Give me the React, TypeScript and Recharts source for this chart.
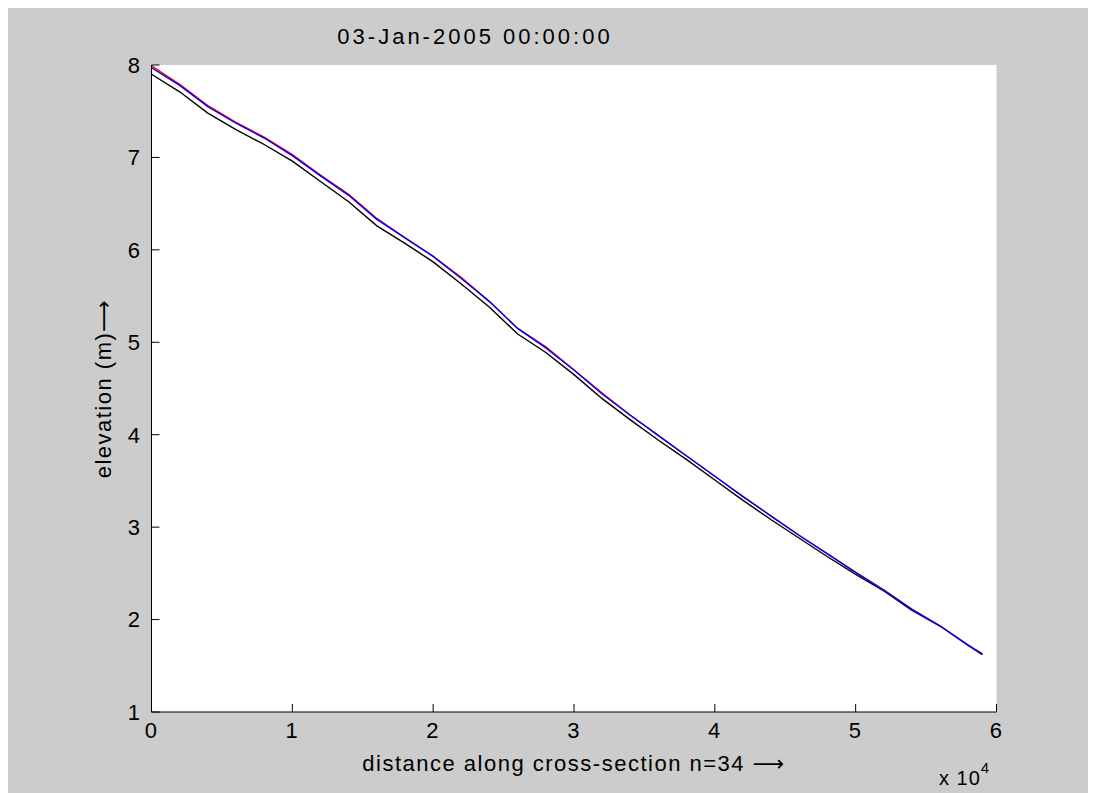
import React from 'react';
import { LineChart, Line, XAxis, YAxis, CartesianGrid } from 'recharts';

// distance along the cross-section (m) and the three elevation profiles (m)
const distance = [
  0, 2000, 4000, 6000, 8000, 10000, 12000, 14000, 16000, 18000, 20000, 22000, 24000, 26000, 28000,
  30000, 32000, 34000, 36000, 38000, 40000, 42000, 44000, 46000, 48000, 50000, 52000, 54000, 56000,
  58000, 59000,
];
const elevationBlack = [
  7.9, 7.71, 7.48, 7.3, 7.14, 6.96, 6.74, 6.52, 6.26, 6.07, 5.87, 5.63, 5.38, 5.09, 4.89, 4.65,
  4.39, 4.16, 3.94, 3.73, 3.51, 3.29, 3.08, 2.88, 2.68, 2.49, 2.31, 2.1, 1.93, 1.72, 1.63,
];
const elevationRed = [
  7.99, 7.79, 7.56, 7.38, 7.22, 7.03, 6.81, 6.6, 6.34, 6.13, 5.93, 5.7, 5.44, 5.15, 4.95, 4.7,
  4.45, 4.21, 3.99, 3.77, 3.55, 3.33, 3.12, 2.91, 2.71, 2.51, 2.32, 2.11, 1.93, 1.72, 1.62,
];
const elevationBlue = [
  7.97, 7.78, 7.55, 7.37, 7.21, 7.02, 6.8, 6.59, 6.33, 6.13, 5.93, 5.69, 5.44, 5.15, 4.94, 4.7,
  4.44, 4.21, 3.99, 3.77, 3.55, 3.33, 3.12, 2.91, 2.71, 2.51, 2.32, 2.11, 1.93, 1.72, 1.62,
];
const xTicks = [0, 10000, 20000, 30000, 40000, 50000, 60000];
const yTicks = [1, 2, 3, 4, 5, 6, 7, 8];

const rows = distance.map((d, i) => ({
  d,
  black: elevationBlack[i],
  red: elevationRed[i],
  blue: elevationBlue[i],
}));

const font = '"Liberation Sans", Arial, "DejaVu Sans", sans-serif';
const tickStyle = { fill: '#000', fontSize: 22, fontFamily: font, letterSpacing: 1.5 };

export default function App() {
  return (
    <div style={{ position: 'relative', marginTop: -3, width: 1088, height: 788, background: '#cccccc', fontFamily: font }}>
      <div
        style={{
          position: 'absolute',
          left: 467 - 200,
          width: 400,
          top: 19,
          textAlign: 'center',
          fontSize: 22,
          letterSpacing: 3,
          color: '#000',
        }}
      >
        03-Jan-2005 00:00:00
      </div>

      <LineChart width={1088} height={788} data={rows} margin={{ top: 60, right: 99.5, bottom: 51, left: 83.5 }}>
        <CartesianGrid horizontal={false} vertical={false} fill="#ffffff" fillOpacity={1} />
        <XAxis
          dataKey="d"
          type="number"
          domain={[0, 60000]}
          ticks={xTicks}
          tickFormatter={(v: number) => String(v / 10000)}
          height={30}
          axisLine={{ stroke: '#000' }}
          tickLine={{ stroke: '#000' }}
          tickSize={-8}
          tickMargin={18}
          tick={tickStyle}
          label={{
            value: 'distance along cross-section n=34 \u27f6',
            position: 'bottom',
            offset: 13,
            style: { fill: '#000', fontSize: 22, fontFamily: font, letterSpacing: 1.5 },
          }}
        />
        <YAxis
          type="number"
          domain={[1, 8]}
          ticks={yTicks}
          width={60}
          axisLine={{ stroke: '#000' }}
          tickLine={{ stroke: '#000' }}
          tickSize={-8}
          tickMargin={18}
          tick={tickStyle}
          label={{
            value: 'elevation (m)\u27f6',
            angle: -90,
            position: 'insideLeft',
            offset: 11.5,
            style: { textAnchor: 'middle', fill: '#000', fontSize: 22, fontFamily: font, letterSpacing: 1.5 },
          }}
        />
        <Line type="linear" dataKey="black" stroke="#000000" strokeWidth={1.4} dot={false} isAnimationActive={false} />
        <Line type="linear" dataKey="red" stroke="#ff0000" strokeWidth={1.4} dot={false} isAnimationActive={false} />
        <Line type="linear" dataKey="blue" stroke="#0000ff" strokeWidth={1.4} dot={false} isAnimationActive={false} />
      </LineChart>

      <div style={{ position: 'absolute', left: 931, top: 758, fontSize: 20, color: '#000', letterSpacing: 1 }}>
        x 10<sup style={{ fontSize: 15, position: 'relative', top: -4 }}>4</sup>
      </div>
    </div>
  );
}
